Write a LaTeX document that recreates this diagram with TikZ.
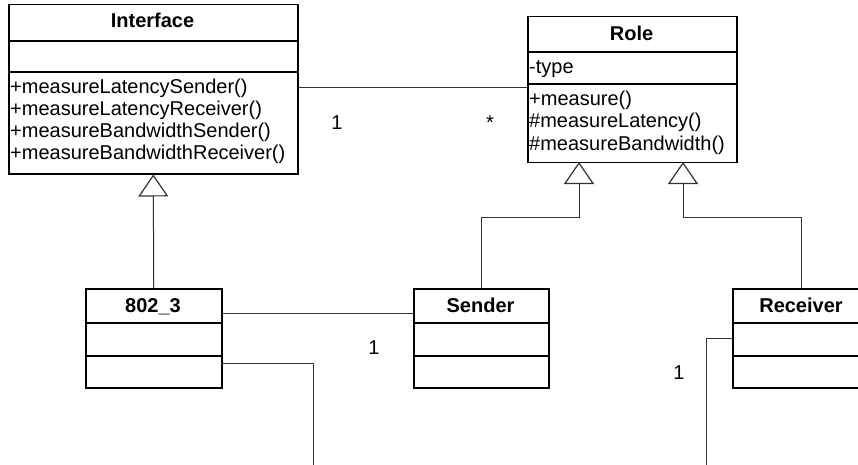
\documentclass[tikz,border=0pt]{standalone}
\usepackage{fontspec}
\setmainfont{Liberation Sans}
\usetikzlibrary{arrows.meta}
\begin{document}
\begin{tikzpicture}[x=1pt,y=-1pt,
  box/.style={draw=black,line width=1.5pt,rectangle,inner sep=0pt,anchor=north west},
  sep/.style={draw=black,line width=1.5pt},
  txt/.style={anchor=base west,inner sep=0pt,font=\fontsize{20}{22}\selectfont},
  ttl/.style={anchor=base,inner sep=0pt,font=\fontsize{20}{22}\selectfont\bfseries},
  conn/.style={draw=black!80,line width=1pt},
  gen/.style={conn,-{Triangle[open,length=22pt,width=30pt,line width=1.2pt]}},
  lbl/.style={anchor=base,inner sep=0pt,font=\fontsize{20}{22}\selectfont}]
\useasboundingbox (0,0) rectangle (858,465);
\clip (0,0) rectangle (858,465);
\fill[white] (0,0) rectangle (858,465);

% Interface
\node[box,minimum width=289pt,minimum height=169pt] (iface) at (8,4) {};
\draw[sep] (iface.west |- 0,41) -- (iface.east |- 0,41);
\draw[sep] (iface.west |- 0,72) -- (iface.east |- 0,72);
\node[ttl] (ifaceT) at (152.5,28) {Interface};
\node[txt] (im1) at (10,94) {+measureLatencySender()};
\node[txt] (im2) at (10,116) {+measureLatencyReceiver()};
\node[txt] (im3) at (10,138) {+measureBandwidthSender()};
\node[txt] (im4) at (10,160) {+measureBandwidthReceiver()};

% Role
\node[box,minimum width=209pt,minimum height=146pt] (role) at (527,16) {};
\draw[sep] (role.west |- 0,52) -- (role.east |- 0,52);
\draw[sep] (role.west |- 0,84) -- (role.east |- 0,84);
\node[ttl] (roleT) at (631.5,41) {Role};
\node[txt] (ra1) at (529,74) {-type};
\node[txt] (rm1) at (529,106) {+measure()};
\node[txt] (rm2) at (529,128) {\#measureLatency()};
\node[txt] (rm3) at (529,150) {\#measureBandwidth()};

% 802_3
\node[box,minimum width=136pt,minimum height=99pt] (eth) at (85,288) {};
\draw[sep] (eth.west |- 0,323) -- (eth.east |- 0,323);
\draw[sep] (eth.west |- 0,356) -- (eth.east |- 0,356);
\node[ttl] (ethT) at (153,312) {802\_3};

% Sender
\node[box,minimum width=135pt,minimum height=99pt] (sender) at (413,288) {};
\draw[sep] (sender.west |- 0,323) -- (sender.east |- 0,323);
\draw[sep] (sender.west |- 0,356) -- (sender.east |- 0,356);
\node[ttl] (senderT) at (480.5,312) {Sender};

% Receiver
\node[box,minimum width=138pt,minimum height=99pt] (receiver) at (732,288) {};
\draw[sep] (receiver.west |- 0,323) -- (receiver.east |- 0,323);
\draw[sep] (receiver.west |- 0,356) -- (receiver.east |- 0,356);
\node[ttl] (receiverT) at (801,312) {Receiver};

% coordinates
\coordinate (r1) at (579,162);
\coordinate (r2) at (683,162);
\coordinate (j1) at (579,217);
\coordinate (j2) at (683,217);
\coordinate (e1) at (221,363);
\coordinate (e2) at (313,470);
\coordinate (v1) at (732,338);
\coordinate (v2) at (706,470);

% association Interface - Role
\draw[conn] (iface.east |- 0,88) -- (role.west |- 0,88);
\node[lbl] (m1) at (337,130) {1};
\node[lbl] (m2) at (490,130) {*};

% generalisations
\draw[gen] (eth.north) -- (iface.south);
\draw[gen] (sender.north) |- (j1) -- (r1);
\draw[gen] (receiver.north) |- (j2) -- (r2);

% association 802_3 - Sender
\draw[conn] (eth.east |- 0,313) -- (sender.west |- 0,313);
\node[lbl] (m3) at (374,354) {1};

% other associations leaving the picture
\draw[conn] (e1) -| (e2);
\draw[conn] (v1) -| (v2);
\node[lbl] (m4) at (679,379) {1};
\end{tikzpicture}
\end{document}
